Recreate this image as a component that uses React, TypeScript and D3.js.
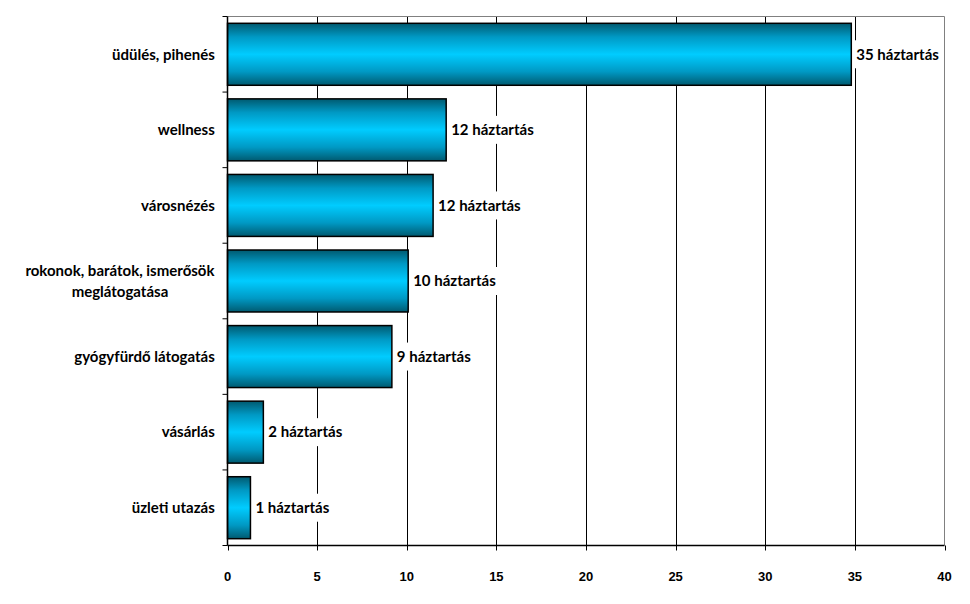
import React, { useEffect, useRef } from "react";
import * as d3 from "d3";

const categories: string[][] = [
  ["üdülés, pihenés"],
  ["wellness"],
  ["városnézés"],
  ["rokonok, barátok, ismerősök", "meglátogatása"],
  ["gyógyfürdő látogatás"],
  ["vásárlás"],
  ["üzleti utazás"],
];
const values: number[] = [34.8, 12.2, 11.47, 10.08, 9.17, 2.0, 1.28];
const valueLabels: string[] = [
  "35 háztartás",
  "12 háztartás",
  "12 háztartás",
  "10 háztartás",
  "9 háztartás",
  "2 háztartás",
  "1 háztartás",
];
const xTicks: number[] = [0, 5, 10, 15, 20, 25, 30, 35, 40];

const W = 970;
const H = 604;
const M = { left: 227.5, right: 944.5, top: 16.5, bottom: 545.5 };
const LABEL_FONT = "Lato, 'Open Sans', sans-serif";

export default function App() {
  const ref = useRef<SVGSVGElement | null>(null);

  useEffect(() => {
    const svg = d3.select(ref.current);
    svg.selectAll("*").remove();

    const x = d3.scaleLinear().domain([0, 40]).range([M.left, M.right]);
    const y = d3
      .scaleBand<number>()
      .domain(d3.range(categories.length))
      .range([M.top, M.bottom])
      .paddingInner(0.18)
      .paddingOuter(0.09);
    const step = y.step();

    const defs = svg.append("defs");
    const grad = defs
      .append("linearGradient")
      .attr("id", "barGrad")
      .attr("x1", 0)
      .attr("y1", 0)
      .attr("x2", 0)
      .attr("y2", 1);
    grad.append("stop").attr("offset", "0%").attr("stop-color", "#005a70");
    grad.append("stop").attr("offset", "22%").attr("stop-color", "#0099c4");
    grad.append("stop").attr("offset", "50%").attr("stop-color", "#00ccff");
    grad.append("stop").attr("offset", "78%").attr("stop-color", "#0099c4");
    grad.append("stop").attr("offset", "100%").attr("stop-color", "#005a70");

    // gridlines
    svg
      .append("g")
      .selectAll("line")
      .data(xTicks.filter((t) => t > 0 && t < 40))
      .join("line")
      .attr("x1", (d) => Math.round(x(d)) + 0.5)
      .attr("x2", (d) => Math.round(x(d)) + 0.5)
      .attr("y1", M.top)
      .attr("y2", M.bottom)
      .attr("stroke", "#000")
      .attr("stroke-width", 1);

    // border top & right
    svg
      .append("path")
      .attr("d", `M${M.left},${M.top}H${M.right}V${M.bottom}`)
      .attr("fill", "none")
      .attr("stroke", "#808080")
      .attr("stroke-width", 1);

    // bars
    svg
      .append("g")
      .selectAll("rect")
      .data(values)
      .join("rect")
      .attr("x", M.left)
      .attr("y", (_, i) => y(i)!)
      .attr("width", (d) => x(d) - M.left)
      .attr("height", y.bandwidth())
      .attr("fill", "url(#barGrad)")
      .attr("stroke", "#000")
      .attr("stroke-width", 1.5);

    // value labels
    const lg = svg.append("g");
    values.forEach((v, i) => {
      const g = lg.append("g");
      const cy = y(i)! + y.bandwidth() / 2;
      const t = g
        .append("text")
        .attr("x", x(v) + 5)
        .attr("y", cy)
        .attr("dy", "0.35em")
        .attr("font-family", LABEL_FONT)
        .attr("font-weight", "bold")
        .attr("font-size", 15)
        .attr("fill", "#000")
        .text(valueLabels[i]);
      const bb = (t.node() as SVGTextElement).getBBox();
      g.insert("rect", "text")
        .attr("x", bb.x - 2)
        .attr("y", cy - 14)
        .attr("width", bb.width + 4)
        .attr("height", 28)
        .attr("fill", "#fff");
    });

    // x axis
    svg
      .append("line")
      .attr("x1", M.left)
      .attr("x2", M.right)
      .attr("y1", M.bottom)
      .attr("y2", M.bottom)
      .attr("stroke", "#000")
      .attr("stroke-width", 1.5);
    svg
      .append("g")
      .selectAll("line")
      .data(xTicks)
      .join("line")
      .attr("x1", (d) => Math.round(x(d)) + 0.5)
      .attr("x2", (d) => Math.round(x(d)) + 0.5)
      .attr("y1", M.bottom)
      .attr("y2", M.bottom + 5)
      .attr("stroke", "#000");
    svg
      .append("g")
      .selectAll("text")
      .data(xTicks)
      .join("text")
      .attr("x", (d) => x(d))
      .attr("y", 576)
      .attr("dy", "0.35em")
      .attr("text-anchor", "middle")
      .attr("font-family", "'Liberation Sans', Arial, sans-serif")
      .attr("font-weight", "bold")
      .attr("font-size", 13)
      .attr("fill", "#000")
      .text((d) => String(d));

    // y axis
    svg
      .append("line")
      .attr("x1", M.left)
      .attr("x2", M.left)
      .attr("y1", M.top)
      .attr("y2", M.bottom)
      .attr("stroke", "#000")
      .attr("stroke-width", 1.5);
    svg
      .append("g")
      .selectAll("line")
      .data(d3.range(categories.length + 1))
      .join("line")
      .attr("x1", M.left - 5)
      .attr("x2", M.left)
      .attr("y1", (d) => M.top + d * step)
      .attr("y2", (d) => M.top + d * step)
      .attr("stroke", "#000");

    // category labels
    categories.forEach((lines, i) => {
      const cy = y(i)! + y.bandwidth() / 2;
      const lh = 21;
      const t = svg
        .append("text")
        .attr("font-family", LABEL_FONT)
        .attr("font-weight", "bold")
        .attr("font-size", 15)
        .attr("fill", "#000")
        .attr("text-anchor", "middle");
      lines.forEach((ln, j) => {
        t.append("tspan")
          .attr("x", 0)
          .attr("y", cy + (j - (lines.length - 1) / 2) * lh)
          .attr("dy", "0.35em")
          .text(ln);
      });
      const bb = (t.node() as SVGTextElement).getBBox();
      const cx = 215 - bb.width / 2;
      t.selectAll("tspan").attr("x", cx);
    });
  }, []);

  return (
    <svg
      ref={ref}
      width={W}
      height={H}
      style={{ position: "absolute", left: 0, top: 0, background: "#fff" }}
    />
  );
}
